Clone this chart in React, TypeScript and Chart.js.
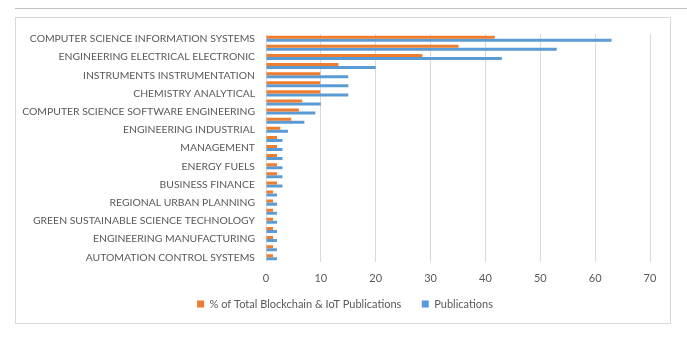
import React, { useEffect, useRef } from "react";
import { Chart, registerables } from "chart.js";

Chart.register(...registerables);

const categories: string[] = [
  "COMPUTER SCIENCE INFORMATION SYSTEMS",
  "TELECOMMUNICATIONS",
  "ENGINEERING ELECTRICAL ELECTRONIC",
  "COMPUTER SCIENCE THEORY METHODS",
  "INSTRUMENTS INSTRUMENTATION",
  "COMPUTER SCIENCE HARDWARE ARCHITECTURE",
  "CHEMISTRY ANALYTICAL",
  "COMPUTER SCIENCE ARTIFICIAL INTELLIGENCE",
  "COMPUTER SCIENCE SOFTWARE ENGINEERING",
  "COMPUTER SCIENCE INTERDISCIPLINARY APPLICATIONS",
  "ENGINEERING INDUSTRIAL",
  "OPERATIONS RESEARCH MANAGEMENT SCIENCE",
  "MANAGEMENT",
  "ENVIRONMENTAL SCIENCES",
  "ENERGY FUELS",
  "ECONOMICS",
  "BUSINESS FINANCE",
  "TRANSPORTATION SCIENCE TECHNOLOGY",
  "REGIONAL URBAN PLANNING",
  "URBAN STUDIES",
  "GREEN SUSTAINABLE SCIENCE TECHNOLOGY",
  "PHYSICS APPLIED",
  "ENGINEERING MANUFACTURING",
  "ENGINEERING MULTIDISCIPLINARY",
  "AUTOMATION CONTROL SYSTEMS",
];

const pctValues: number[] = [
  41.7, 35.1, 28.5, 13.2, 9.9, 9.9, 9.9, 6.6, 6.0, 4.6, 2.6, 2.0, 2.0, 2.0, 2.0,
  2.0, 2.0, 1.3, 1.3, 1.3, 1.3, 1.3, 1.3, 1.3, 1.3,
];

const publications: number[] = [
  63, 53, 43, 20, 15, 15, 15, 10, 9, 7, 4, 3, 3, 3, 3, 3, 3, 2, 2, 2, 2, 2, 2, 2, 2,
];

const xTicks: number[] = [0, 10, 20, 30, 40, 50, 60, 70];

const seriesNames: string[] = ["% of Total Blockchain & IoT Publications", "Publications"];

const FONT = "Lato, 'Liberation Sans', sans-serif";
const TEXT = "#595959";

const legendShift = {
  id: "legendShift",
  afterLayout(chart: any) {
    if (chart.legend) {
      chart.legend.left += 12;
      chart.legend.right += 12;
    }
  },
};

export default function App() {
  const ref = useRef<HTMLCanvasElement | null>(null);

  useEffect(() => {
    if (!ref.current) return;
    const chart = new Chart(ref.current, {
      type: "bar",
      data: {
        labels: categories,
        datasets: [
          {
            label: seriesNames[0],
            data: pctValues,
            backgroundColor: "#ED7D31",
            categoryPercentage: 0.66,
            barPercentage: 1.0,
          },
          {
            label: seriesNames[1],
            data: publications,
            backgroundColor: "#5B9BD5",
            categoryPercentage: 0.66,
            barPercentage: 1.0,
          },
        ],
      },
      plugins: [legendShift],
      options: {
        indexAxis: "y",
        animation: false,
        responsive: false,
        maintainAspectRatio: false,
        layout: { padding: { top: 9, right: 20, left: 0, bottom: 3.5 } },
        plugins: {
          legend: {
            position: "bottom",
            labels: {
              boxWidth: 7,
              boxHeight: 7,
              padding: 3.5,
              color: TEXT,
              font: { family: FONT, size: 11 },
              generateLabels: (ch: any) => {
                const items = Chart.defaults.plugins.legend.labels.generateLabels(ch);
                return items.map((it: any, i: number) =>
                  i === 0 ? { ...it, text: it.text + "      " } : it
                );
              },
            },
          },
          tooltip: { enabled: false },
        },
        scales: {
          x: {
            min: 0,
            max: 70,
            afterBuildTicks: (scale: any) => {
              scale.ticks = xTicks.map((v) => ({ value: v }));
            },
            grid: { color: "#d9d9d9", drawTicks: false },
            border: { display: false },
            ticks: {
              color: TEXT,
              font: { family: FONT, size: 11 },
              padding: 10,
            },
          },
          y: {
            grid: { display: false, drawTicks: false },
            border: { display: false },
            afterFit: (scale: any) => {
              scale.width = 250;
            },
            ticks: {
              autoSkip: false,
              color: TEXT,
              font: { family: FONT, size: 10.4, lineHeight: 1 },
              padding: 11,
              callback: (_v: any, i: number) => (i % 2 === 0 ? categories[i] : ""),
            },
          },
        },
      },
    });
    return () => chart.destroy();
  }, []);

  return (
    <div style={{ position: "absolute", left: 0, top: 0, width: 687, height: 337, background: "#fff" }}>
      <div style={{ position: "absolute", left: 15, top: 8, width: 672, height: 1, background: "#bfbfbf" }} />
      <div
        style={{
          position: "absolute",
          left: 15,
          top: 17,
          width: 654,
          height: 305,
          border: "1px solid #d9d9d9",
        }}
      >
        <canvas ref={ref} width={654} height={305} style={{ display: "block" }} />
      </div>
    </div>
  );
}
